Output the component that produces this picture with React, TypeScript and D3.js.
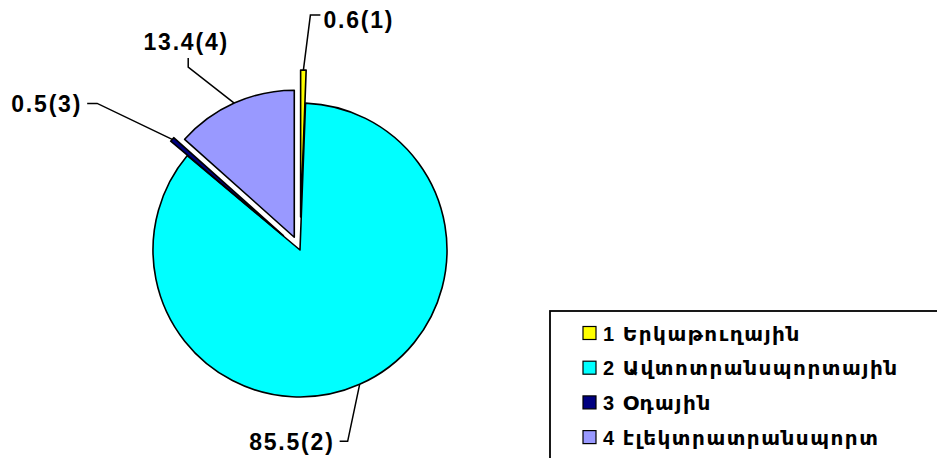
import * as d3 from "d3";
import React from "react";

const categories = ["Երկաթուղային", "Ավտոտրանսպորտային", "Օդային", "էլեկտրատրանսպորտ"];
const shares = [0.6, 85.5, 0.5, 13.4];
const labels = ["0.6(1)", "85.5(2)", "0.5(3)", "13.4(4)"];
const colors = ["#FFFF00", "#00FFFF", "#000080", "#9999FF"];
// how far each slice is pulled out of the pie
const explode = [33, 0, 22, 14];
// leader elbow relative to the anchor on the arc, then horizontal stub direction
const leaders = [
  { dx: 7, dy: -55, stub: 10 },
  { dx: -12, dy: 57, stub: -8 },
  { dx: -75, dy: -36, stub: -10 },
  { dx: -46, dy: -36, stub: 0 },
];

const W = 937;
const H = 458;
const cx = 300;
const cy = 250;
const R = 147;

export default function App() {
  const pie = d3
    .pie<number>()
    .sort(null)
    .value((d) => d)
    .startAngle(0)
    .endAngle(2 * Math.PI);
  const arcs = pie(shares);
  const arc = d3.arc<d3.PieArcDatum<number>>().innerRadius(0).outerRadius(R);

  const slices = arcs.map((a, i) => {
    const mid = (a.startAngle + a.endAngle) / 2;
    const ux = Math.sin(mid);
    const uy = -Math.cos(mid);
    const ox = cx + ux * explode[i];
    const oy = cy + uy * explode[i];
    const ax = ox + ux * R;
    const ay = oy + uy * R;
    const L = leaders[i];
    const ex = ax + L.dx;
    const ey = ay + L.dy;
    return { a, i, ox, oy, ax, ay, ex, ey, sx: ex + L.stub, sy: L.stub === 0 ? ey - 9 : ey };
  });

  const labelFont = { fontFamily: "'Liberation Sans', Arial, sans-serif", fontWeight: 700, fontSize: 23, letterSpacing: 1.8 };

  return (
    <svg width={W} height={H} style={{ position: "absolute", left: 0, top: 0, background: "#fff" }}>
      {slices.map((s) => (
        <path
          key={s.i}
          d={arc(s.a) ?? ""}
          transform={`translate(${s.ox},${s.oy})`}
          fill={colors[s.i]}
          stroke="#000"
          strokeWidth={1.6}
          strokeLinejoin="round"
        />
      ))}
      {slices.map((s) => {
        const L = leaders[s.i];
        let tx = s.sx;
        let ty = s.sy;
        let anchor: "start" | "end" | "middle" = "start";
        if (L.stub > 0) {
          tx = s.sx + 3;
          ty = s.sy + 13;
        } else if (L.stub < 0) {
          tx = s.sx - 5;
          ty = s.sy + 9;
          anchor = "end";
        } else {
          tx = s.sx - 2;
          ty = s.sy - 8;
          anchor = "middle";
        }
        return (
          <g key={"l" + s.i}>
            <polyline
              points={`${s.ax},${s.ay} ${s.ex},${s.ey} ${s.sx},${s.sy}`}
              fill="none"
              stroke="#000"
              strokeWidth={1.5}
            />
            <text x={tx} y={ty} textAnchor={anchor} style={labelFont}>
              {labels[s.i]}
            </text>
          </g>
        );
      })}
      <g>
        <rect x={550} y={311} width={420} height={170} fill="#fff" stroke="#000" strokeWidth={1.8} />
        {categories.map((c, i) => (
          <g key={c} transform={`translate(583,${333 + i * 34.7})`}>
            <rect x={0} y={-6.5} width={13} height={13} fill={colors[i]} stroke="#000" strokeWidth={1.2} />
            <text
              x={20}
              y={7.5}
              style={{ fontFamily: "'Liberation Sans', 'DejaVu Sans', sans-serif", fontSize: 20, fontWeight: 700, letterSpacing: 1.5 }}
            >
              {`${i + 1} ${c}`}
            </text>
          </g>
        ))}
      </g>
    </svg>
  );
}
